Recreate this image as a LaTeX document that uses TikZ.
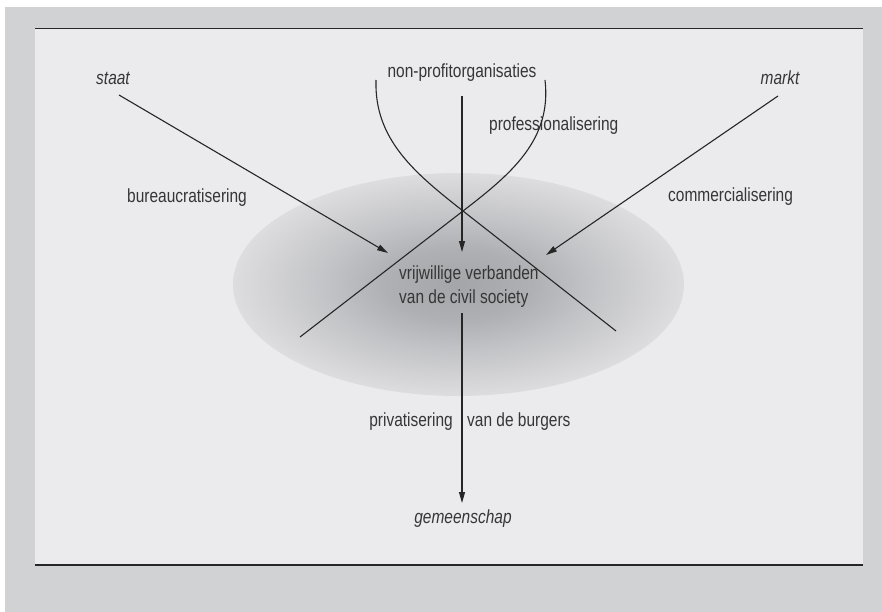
\documentclass[tikz,border=0pt]{standalone}
\usepackage{fontspec}
\setmainfont{Liberation Sans}[FakeStretch=0.815]
\usetikzlibrary{arrows.meta}
\definecolor{outerbg}{HTML}{D1D2D4}
\definecolor{panel}{HTML}{EBEBED}
\definecolor{ink}{HTML}{262626}
\definecolor{txt}{HTML}{363636}
\definecolor{ellA}{HTML}{A4A5A9}
\definecolor{ellB}{HTML}{AFB0B4}
\definecolor{ellC}{HTML}{C3C4C7}
\definecolor{ellD}{HTML}{D3D3D5}
\definecolor{ellE}{HTML}{DDDDDF}
\pgfdeclareradialshading{ellshade}{\pgfpoint{0bp}{0bp}}{color(0bp)=(ellA); color(8bp)=(ellB); color(15bp)=(ellC); color(21bp)=(ellD); color(25bp)=(ellE); color(50bp)=(ellE)}
\tikzset{
  lbl/.style={text=txt, inner sep=0pt, anchor=base, font=\fontsize{19}{23}\selectfont},
  conn/.style={draw=ink, line width=1.1pt},
  arr/.style={conn, -{Triangle[length=11pt,width=6pt]}},
}
\begin{document}
\begin{tikzpicture}[x=1pt,y=-1pt]
\useasboundingbox (0,0) rectangle (882,612);
\fill[white] (0,0) rectangle (882,612);
\fill[outerbg] (5,7) rectangle (882,612);
\fill[panel] (35,28) rectangle (863,565);
\draw[ink, line width=1.5pt] (35,28.5) -- (863,28.5);
\draw[ink, line width=2pt] (35,564.5) -- (863,564.5);
% shaded ellipse
\shade[shading=ellshade] (458.5,284.5) ellipse [x radius=225.5, y radius=111.5];
% labels
\node[lbl] (staat) at (113,85) {\itshape staat};
\node[lbl] (markt) at (780,85) {\itshape markt};
\node[lbl] (npo) at (462,78) {non-profitorganisaties};
\node[lbl, anchor=base west] (prof) at (489,131) {professionalisering};
\node[lbl, anchor=base west] (bur) at (127,203) {bureaucratisering};
\node[lbl, anchor=base west] (comm) at (668,202) {commercialisering};
\node[lbl, anchor=base west] (civA) at (399,279) {vrijwillige verbanden};
\node[lbl, anchor=base west] (civB) at (399,303) {van de civil society};
\node[lbl, anchor=base east] (priv) at (453,426) {privatisering};
\node[lbl, anchor=base west] (burg) at (467,426) {van de burgers};
\node[lbl] (gem) at (463,523) {\itshape gemeenschap};
% connector end points
\coordinate (staatS) at (119,95);
\coordinate (staatT) at (388,253);
\coordinate (marktS) at (778,96);
\coordinate (marktT) at (546,255);
\coordinate (npoS) at (462,96);
\coordinate (npoT) at (462,252);
\coordinate (civS) at (462,313);
\coordinate (gemT) at (462,503);
\coordinate (cross) at (463,211);
\coordinate (lcTop) at (376,80);
\coordinate (lcEnd) at (616,331);
\coordinate (rcTop) at (545,80);
\coordinate (rcEnd) at (300,337);
% arrows
\draw[arr] (staatS) -- (staatT);
\draw[arr] (marktS) -- (marktT);
\draw[arr] (npoS) -- (npoT);
\draw[arr] (civS) -- (gemT);
% professionalisering curves
\draw[conn] (lcTop) .. controls (374,140) and (416,174) .. (cross) -- (lcEnd);
\draw[conn] (rcTop) .. controls (552,140) and (511,174) .. (cross) -- (rcEnd);
\end{tikzpicture}
\end{document}
